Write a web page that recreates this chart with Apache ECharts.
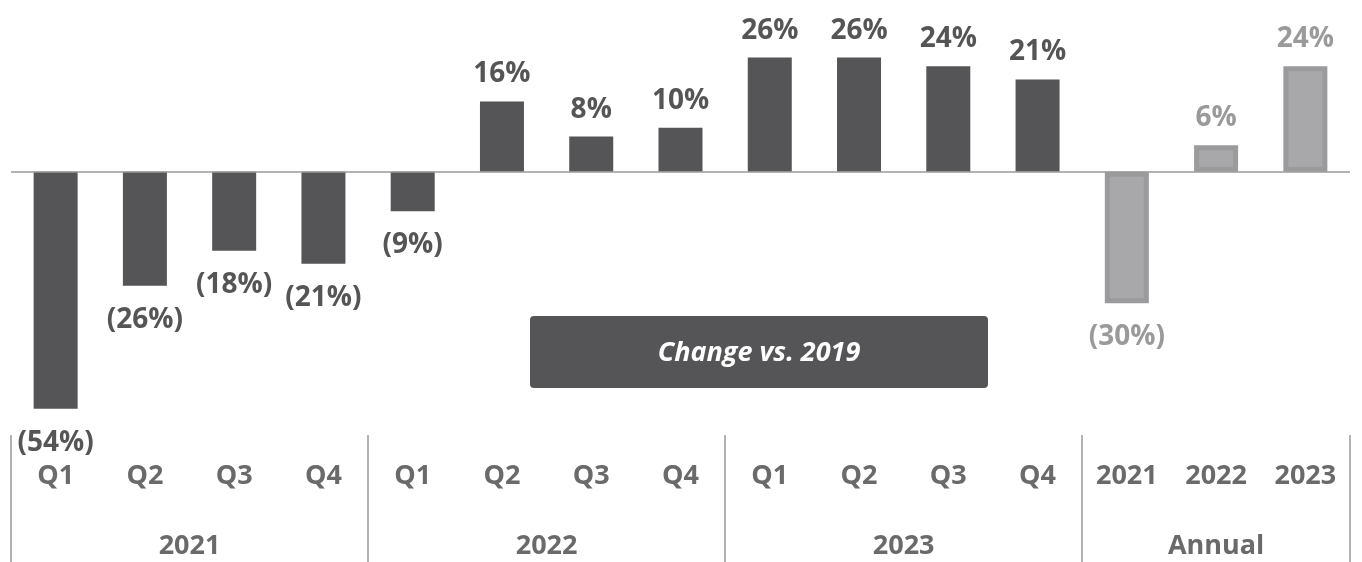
<!DOCTYPE html>
<html lang="en">
<head>
  <meta charset="UTF-8">
  <title>Change vs. 2019</title>
  <style>
    html, body { margin: 0; padding: 0; background: #fff; }
    #main { width: 1362px; height: 562px; }
  </style>
</head>
<body>
  <div id="main"></div>
  <script src="https://cdn.jsdelivr.net/npm/echarts@6/dist/echarts.min.js"></script>
  <script>
    // categories along the bottom
    const periods = ['Q1', 'Q2', 'Q3', 'Q4', 'Q1', 'Q2', 'Q3', 'Q4', 'Q1', 'Q2', 'Q3', 'Q4', '2021', '2022', '2023']
    // change vs. 2019, in %
    const changes = [-54, -26, -18, -21, -9, 16, 8, 10, 26, 26, 24, 21, -30, 6, 24]
    // which bars are annual (lighter)
    const isAnnual = [0, 0, 0, 0, 0, 0, 0, 0, 0, 0, 0, 0, 1, 1, 1]
    // group labels and where they sit (in category units)
    const groupNames = ['2021', '2022', '2023', 'Annual']
    const groupCenters = [2, 6, 10, 13.5]
    const groupEdges = [0, 4, 8, 12, 15]

    const font = '"Open Sans", "Noto Sans", sans-serif'
    const myChart = echarts.init(document.getElementById('main'))

    const barData = changes.map(function (v, i) {
      const annual = isAnnual[i] === 1
      return {
        value: v,
        itemStyle: annual
          ? { color: '#a8a8aa', borderColor: '#9b9b9d', borderWidth: 5 }
          : { color: '#555557' },
        label: {
          position: v < 0 ? 'bottom' : 'top',
          distance: v < 0 ? 20 : 13,
          color: annual ? '#9a9a9a' : '#555'
        }
      }
    })

    const option = {
      animation: false,
      grid: { left: 11, right: 12, top: 40, bottom: 127 },
      xAxis: [
        {
          type: 'category',
          data: periods,
          position: 'bottom',
          axisLine: { show: false },
          axisTick: { show: false },
          axisLabel: {
            margin: 28,
            fontFamily: font,
            fontSize: 27,
            fontWeight: 'bold',
            color: '#6a6a6a'
          }
        },
        {
          type: 'value',
          min: 0,
          max: 15,
          position: 'bottom',
          axisLine: { show: false },
          splitLine: { show: false },
          axisTick: {
            show: true,
            customValues: groupEdges,
            length: 134,
            lineStyle: { color: '#9a9a9a', width: 1.5 }
          },
          axisLabel: {
            customValues: groupCenters,
            margin: 98,
            fontFamily: font,
            fontSize: 27,
            fontWeight: 'bold',
            color: '#6a6a6a',
            formatter: function (v) {
              return groupNames[groupCenters.indexOf(v)] || ''
            }
          }
        }
      ],
      yAxis: {
        type: 'value',
        min: -60,
        max: 30,
        show: false,
        splitLine: { show: false }
      },
      series: [
        {
          type: 'bar',
          data: barData,
          barWidth: 44,
          label: {
            show: true,
            fontFamily: font,
            fontSize: 28,
            fontWeight: 'bold',
            formatter: function (p) {
              return p.value < 0 ? '(' + Math.abs(p.value) + '%)' : p.value + '%'
            }
          },
          markLine: {
            silent: true,
            symbol: 'none',
            label: { show: false },
            lineStyle: { color: '#9a9a9a', type: 'solid', width: 1.5 },
            data: [{ yAxis: 0 }]
          }
        }
      ],
      graphic: [
        {
          type: 'group',
          left: 530,
          top: 316,
          children: [
            {
              type: 'rect',
              shape: { x: 0, y: 0, width: 458, height: 72, r: 4 },
              style: { fill: '#555557' }
            },
            {
              type: 'text',
              x: 229,
              y: 37,
              style: {
                text: 'Change vs. 2019',
                fill: '#fff',
                font: 'italic bold 27px ' + font,
                textAlign: 'center',
                textVerticalAlign: 'middle'
              }
            }
          ]
        }
      ]
    }

    myChart.setOption(option)
  </script>
</body>
</html>
